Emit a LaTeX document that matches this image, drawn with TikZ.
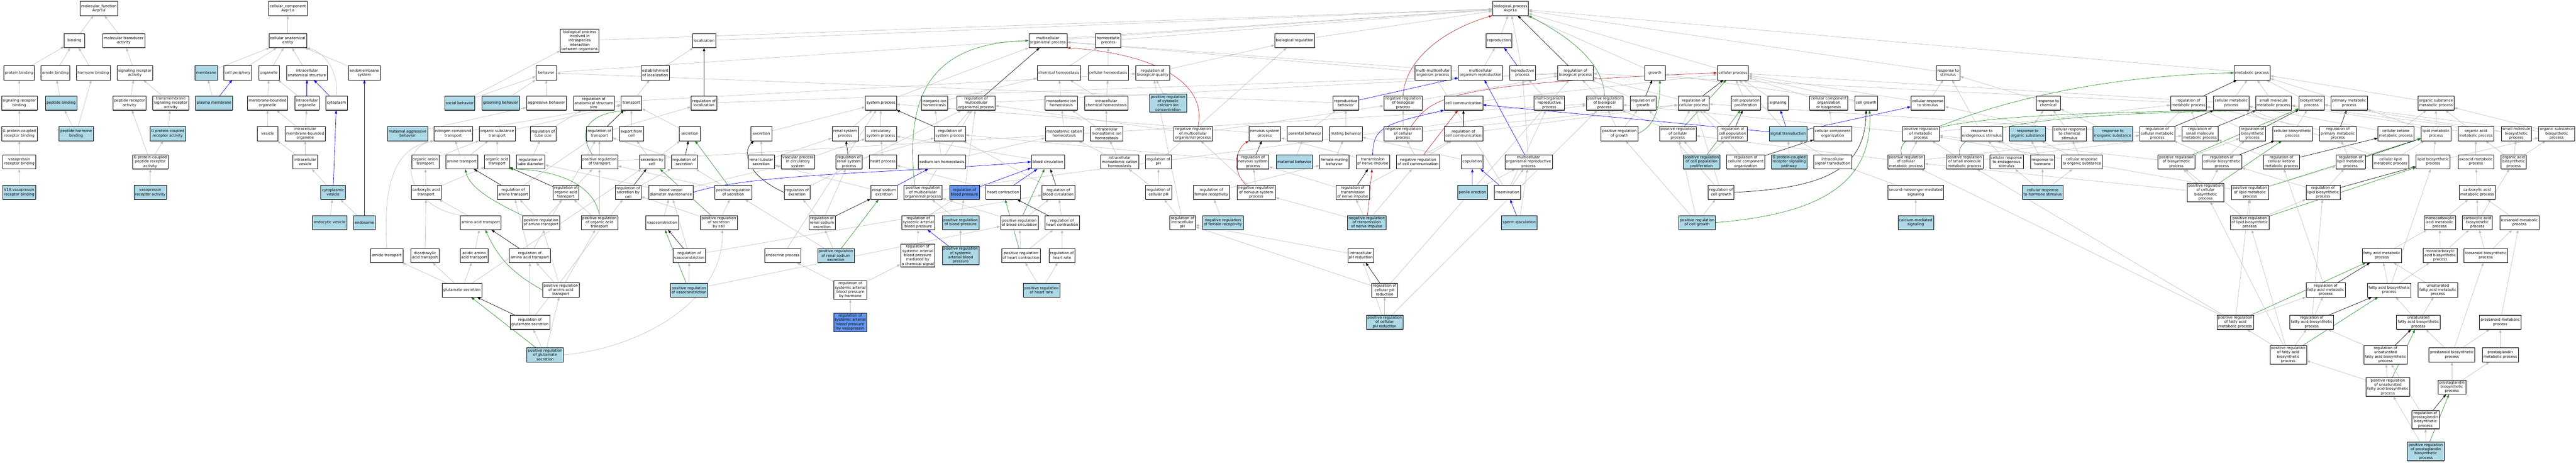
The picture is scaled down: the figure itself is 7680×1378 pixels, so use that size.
\documentclass[tikz,border=0pt]{standalone}
\usepackage{fontspec}
\setmainfont{DejaVu Sans}
\usetikzlibrary{arrows.meta,shadows}
\definecolor{lb}{HTML}{ADD8E6}
\definecolor{cf}{HTML}{6495ED}
\definecolor{eg}{RGB}{190,190,190}
\definecolor{fg}{HTML}{228B22}
\definecolor{fr}{HTML}{B22222}
\pgfdeclarelayer{bgl}
\pgfdeclarelayer{edges}
\pgfsetlayers{bgl,edges,main}
\tikzset{
 nb/.style={draw=black, line width=0.8pt, fill=white, align=center, inner xsep=3.5pt, inner ysep=3pt,
   minimum width=61.5pt, minimum height=42pt, font=\fontsize{11}{12.8}\selectfont,
   drop shadow={shadow xshift=0pt, shadow yshift=-1.5pt, opacity=1, fill=black!55}},
 nl/.style={nb, fill=lb},
 nc/.style={nb, fill=cf},
 ed/.style={draw=eg, line width=1pt, -{Triangle[length=10pt,width=7pt]}},
 edk/.style={ed, draw=black},
 edb/.style={ed, draw=blue},
 edg/.style={ed, draw=fg},
 edr/.style={ed, draw=fr}
}
\newcommand{\lnk}[3][ed]{\draw[#1] (#2) -- (#3);}
\begin{document}
\begin{tikzpicture}[x=1pt,y=-1pt]
\begin{pgfonlayer}{bgl}
\fill[white] (0,0) rectangle (7680,1378);
\end{pgfonlayer}
\useasboundingbox (0,0) rectangle (7680,1378);
% ---------------- molecular function
\node[nb] (mf) at (295,25) {molecular\_function\\Avpr1a};
\node[nb] (binding) at (222,121) {binding};
\node[nb] (moltrans) at (369,121) {molecular transducer\\activity};
\node[nb] (protbind) at (57,217) {protein binding};
\node[nb] (amidebind) at (165,217) {amide binding};
\node[nb] (hormbind) at (278,217) {hormone binding};
\node[nb] (sigrecact) at (402,217) {signaling receptor\\activity};
\node[nb] (sigrecbind) at (57.5,307) {signaling receptor\\binding};
\node[nl] (peptbind) at (182,307) {peptide binding};
\node[nb] (peptrecact) at (386,307) {peptide receptor\\activity};
\node[nb] (tmsra) at (509,307) {transmembrane\\signaling receptor\\activity};
\node[nb] (gpcrbind) at (57.5,398) {G protein-coupled\\receptor binding};
\node[nl] (pepthorm) at (227,398) {peptide hormone\\binding};
\node[nl] (gpcract) at (500,398) {G protein-coupled\\receptor activity};
\node[nb] (vasorecbind) at (57.5,482) {vasopressin\\receptor binding};
\node[nb] (gpcpept) at (448,482) {G protein-coupled\\peptide receptor\\activity};
\node[nl] (v1a) at (57,573) {V1A vasopressin\\receptor binding};
\node[nl] (vasorecact) at (448,573) {vasopressin\\receptor activity};
% ---------------- cellular component
\node[nb] (cc) at (858,25) {cellular\_component\\Avpr1a};
\node[nb] (cae) at (858,121) {cellular anatomical\\entity};
\node[nl] (membrane) at (615,217) {membrane};
\node[nb] (cellper) at (709,217) {cell periphery};
\node[nb] (organelle) at (802,217) {organelle};
\node[nb] (intraanat) at (915,217) {intracellular\\anatomical structure};
\node[nb] (endomem) at (1086.5,217) {endomembrane\\system};
\node[nl] (plasmamem) at (638,307) {plasma membrane};
\node[nb] (mbo) at (797.5,307) {membrane-bounded\\organelle};
\node[nb] (intraorg) at (915,307) {intracellular\\organelle};
\node[nb] (cytoplasm) at (1003,307) {cytoplasm};
\node[nb] (vesicle) at (798,398) {vesicle};
\node[nb] (imbo) at (910,398) {intracellular\\membrane-bounded\\organelle};
\node[nb] (intraves) at (910,482) {intracellular\\vesicle};
\node[nl] (cytoves) at (993,573) {cytoplasmic\\vesicle};
\node[nl] (endocytic) at (982.5,663) {endocytic vesicle};
\node[nl] (endosome) at (1086.5,663) {endosome};
% ---------------- biological process: row 0-2
\node[nb] (bp) at (4503,25) {biological\_process\\Avpr1a};
\node[nb] (bipis) at (1728,121) {biological process\\involved in\\intraspecies\\interaction\\between organisms};
\node[nb] (loc) at (2099,121) {localization};
\node[nb] (mop) at (3124,121) {multicellular\\organismal process};
\node[nb] (homeo) at (3304,121) {homeostatic\\process};
\node[nb] (bioreg) at (3860,121) {biological regulation};
\node[nb] (repro) at (4469,121) {reproduction};
\node[nb] (behavior) at (1628.6,217) {behavior};
\node[nb] (estloc) at (1953.5,217) {establishment\\of localization};
\node[nb] (chemhom) at (3156.7,217) {chemical homeostasis};
\node[nb] (cellhom) at (3303.7,217) {cellular homeostasis};
\node[nb] (rbq) at (3436.7,217) {regulation of\\biological quality};
\node[nb] (mmop) at (4271.8,217) {multi-multicellular\\organism process};
\node[nb] (mor) at (4413.9,217) {multicellular\\organism reproduction};
\node[nb] (reprop) at (4538.8,217) {reproductive\\process};
\node[nb] (rbp) at (4697,217) {regulation of\\biological process};
\node[nb] (growth) at (4934,217) {growth};
\node[nb] (cellproc) at (5166,217) {cellular process};
\node[nb] (rstim) at (5807.8,217) {response to\\stimulus};
\node[nb] (metab) at (6714.3,217) {metabolic process};
% row 3
\node[nl] (socbeh) at (1370.6,307) {social behavior};
\node[nl] (groom) at (1492.7,307) {grooming behavior};
\node[nb] (aggbeh) at (1629,307) {aggressive behavior};
\node[nb] (rass) at (1770,307) {regulation of\\anatomical structure\\size};
\node[nb] (transport) at (1882.4,307) {transport};
\node[nb] (rloc) at (2098.8,307) {regulation of\\localization};
\node[nb] (sysproc) at (2626,307) {system process};
\node[nb] (inorghom) at (2785.7,307) {inorganic ion\\homeostasis};
\node[nb] (rmop) at (2910,307) {regulation of\\multicellular\\organismal process};
\node[nb] (maih) at (3164,307) {monoatomic ion\\homeostasis};
\node[nb] (ich) at (3298,307) {intracellular\\chemical homeostasis};
\node[nl] (prcyto) at (3482.4,307) {positive regulation\\of cytosolic\\calcium ion\\concentration};
\node[nb] (reprobeh) at (4012,307) {reproductive\\behavior};
\node[nb] (nrbp) at (4183,307) {negative regulation\\of biological\\process};
\node[nb] (cellcomm) at (4363,307) {cell communication};
\node[nb] (morp) at (4619,307) {multi-organism\\reproductive\\process};
\node[nb] (prbp) at (4783.7,307) {positive regulation\\of biological\\process};
\node[nb] (rgrowth) at (4898,307) {regulation of\\growth};
\node[nb] (rcp) at (5049,307) {regulation of\\cellular process};
\node[nb] (cpp) at (5205,307) {cell population\\proliferation};
\node[nb] (signaling) at (5301,307) {signaling};
\node[nb] (ccob) at (5452,307) {cellular component\\organization\\or biogenesis};
\node[nb] (cellgrowth) at (5563.7,307) {cell growth};
\node[nb] (crstim) at (5747.3,307) {cellular response\\to stimulus};
\node[nb] (rchem) at (6106.5,307) {response to\\chemical};
\node[nb] (rmetab) at (6524.5,307) {regulation of\\metabolic process};
\node[nb] (cmetab) at (6651.8,307) {cellular metabolic\\process};
\node[nb] (smmetab) at (6778,307) {small molecule\\metabolic process};
\node[nb] (biosyn) at (6891.4,307) {biosynthetic\\process};
\node[nb] (primmetab) at (7003.7,307) {primary metabolic\\process};
\node[nb] (osmetab) at (7262.4,307) {organic substance\\metabolic process};
% row 4
\node[nl] (matagg) at (1215,398) {maternal aggressive\\behavior};
\node[nb] (nitro) at (1351,398) {nitrogen compound\\transport};
\node[nb] (orgsubtr) at (1482.4,398) {organic substance\\transport};
\node[nb] (rtubesize) at (1619,398) {regulation of\\tube size};
\node[nb] (rtransport) at (1787.3,398) {regulation of\\transport};
\node[nb] (export) at (1882.4,398) {export from\\cell};
\node[nb] (secretion) at (2056.3,398) {secretion};
\node[nb] (excretion) at (2269.8,398) {excretion};
\node[nb] (renalsys) at (2519.6,398) {renal system\\process};
\node[nb] (circsys) at (2626,398) {circulatory\\system process};
\node[nb] (rsysproc) at (2832,398) {regulation of\\system process};
\node[nb] (mach) at (3173,398) {monoatomic cation\\homeostasis};
\node[nb] (imih) at (3299,398) {intracellular\\monoatomic ion\\homeostasis};
\node[nb] (nrmop) at (3556.7,398) {negative regulation\\of multicellular\\organismal process};
\node[nb] (nsp) at (3770.6,398) {nervous system\\process};
\node[nb] (parbeh) at (3890,398) {parental behavior};
\node[nb] (matingbeh) at (4012.7,398) {mating behavior};
\node[nb] (nrcp) at (4183,398) {negative regulation\\of cellular\\process};
\node[nb] (rcellcomm) at (4363,398) {regulation of\\cell communication};
\node[nb] (prgrowth) at (4827.8,398) {positive regulation\\of growth};
\node[nb] (prcp) at (5002,398) {positive regulation\\of cellular\\process};
\node[nb] (rcpp) at (5165,398) {regulation of\\cell population\\proliferation};
\node[nl] (sigtrans) at (5331,398) {signal transduction};
\node[nb] (cco) at (5464,398) {cellular component\\organization};
\node[nb] (prmetab) at (5726.5,398) {positive regulation\\of metabolic\\process};
\node[nb] (rendo) at (5908.6,398) {response to\\endogenous stimulus};
\node[nl] (rorgsub) at (6045,398) {response to\\organic substance};
\node[nb] (crchem) at (6170,398) {cellular response\\to chemical\\stimulus};
\node[nl] (rinorg) at (6299,398) {response to\\inorganic substance};
\node[nb] (rcmetab) at (6431.5,398) {regulation of\\cellular metabolic\\process};
\node[nb] (rsmmetab) at (6559,398) {regulation of\\small molecule\\metabolic process};
\node[nb] (rbiosyn) at (6715.5,398) {regulation of\\biosynthetic\\process};
\node[nb] (cbiosyn) at (6834.7,398) {cellular biosynthetic\\process};
\node[nb] (rprimmetab) at (6970,398) {regulation of\\primary metabolic\\process};
\node[nb] (cketone) at (7143,398) {cellular ketone\\metabolic process};
\node[nb] (lipidmetab) at (7262.4,398) {lipid metabolic\\process};
\node[nb] (oamet) at (7381.6,398) {organic acid\\metabolic process};
\node[nb] (smbiosyn) at (7502,398) {small molecule\\biosynthetic\\process};
\node[nb] (osbiosyn) at (7622.4,398) {organic substance\\biosynthetic\\process};
% row 5
\node[nb] (organion) at (1268,482) {organic anion\\transport};
\node[nb] (aminetr) at (1376.7,482) {amine transport};
\node[nb] (orgacidtr) at (1482,482) {organic acid\\transport};
\node[nb] (rtubediam) at (1581.6,482) {regulation of\\tube diameter};
\node[nb] (prtransport) at (1787,482) {positive regulation\\of transport};
\node[nb] (secbycell) at (1944,482) {secretion by\\cell};
\node[nb] (rsecretion) at (2039.6,482) {regulation of\\secretion};
\node[nb] (renaltub) at (2269.4,482) {renal tubular\\secretion};
\node[nb] (vascproc) at (2379,482) {vascular process\\in circulatory\\system};
\node[nb] (rrenalsys) at (2531,482) {regulation of\\renal system\\process};
\node[nb] (heartproc) at (2632,482) {heart process};
\node[nb] (sodhom) at (2808,482) {sodium ion homeostasis};
\node[nb] (bloodcirc) at (3124,482) {blood circulation};
\node[nb] (imch) at (3338,482) {intracellular\\monoatomic cation\\homeostasis};
\node[nb] (rph) at (3453.5,482) {regulation of\\pH};
\node[nb] (rnsp) at (3735.5,482) {regulation of\\nervous system\\process};
\node[nl] (matbeh) at (3859,482) {maternal behavior};
\node[nb] (femmating) at (3978,482) {female mating\\behavior};
\node[nb] (tni) at (4092.7,482) {transmission\\of nerve impulse};
\node[nb] (nrcellcomm) at (4227.8,482) {negative regulation\\of cell communication};
\node[nb] (copulation) at (4389.4,482) {copulation};
\node[nb] (mrp) at (4557,482) {multicellular\\organismal reproductive\\process};
\node[nl] (prcpp) at (5073,482) {positive regulation\\of cell population\\proliferation};
\node[nb] (rcco) at (5204.5,482) {regulation of\\cellular component\\organization};
\node[nl] (gpcrsig) at (5334,482) {G protein-coupled\\receptor signaling\\pathway};
\node[nb] (intrasig) at (5464,482) {intracellular\\signal transduction};
\node[nb] (prcmetab) at (5682.4,482) {positive regulation\\of cellular\\metabolic process};
\node[nb] (prsmmetab) at (5857,482) {positive regulation\\of small molecule\\metabolic process};
\node[nb] (crendo) at (5982,482) {cellular response\\to endogenous\\stimulus};
\node[nb] (rhormone) at (6089,482) {response to\\hormone};
\node[nb] (crorgsub) at (6206.5,482) {cellular response\\to organic substance};
\node[nb] (prbiosyn) at (6488.6,482) {positive regulation\\of biosynthetic\\process};
\node[nb] (rcbiosyn) at (6624,482) {regulation of\\cellular biosynthetic\\process};
\node[nb] (rcketone) at (6801.6,482) {regulation of\\cellular ketone\\metabolic process};
\node[nb] (rlipidmetab) at (7007.8,482) {regulation of\\lipid metabolic\\process};
\node[nb] (clipid) at (7127,482) {cellular lipid\\metabolic process};
\node[nb] (lipidbiosyn) at (7253.9,482) {lipid biosynthetic\\process};
\node[nb] (oxoacid) at (7381.6,482) {oxoacid metabolic\\process};
\node[nb] (oabiosyn) at (7494,482) {organic acid\\biosynthetic\\process};
% row 6
\node[nb] (carbtr) at (1270,573) {carboxylic acid\\transport};
\node[nb] (ramine) at (1530,573) {regulation of\\amine transport};
\node[nb] (rorgacid) at (1687,573) {regulation of\\organic acid\\transport};
\node[nb] (rsecbycell) at (1873,573) {regulation of\\secretion by\\cell};
\node[nb] (bvdm) at (2000,573) {blood vessel\\diameter maintenance};
\node[nb] (prsecretion) at (2186,573) {positive regulation\\of secretion};
\node[nb] (rexcretion) at (2376,573) {regulation of\\excretion};
\node[nb] (renalsod) at (2635.5,573) {renal sodium\\excretion};
\node[nb] (prmop) at (2751.8,573) {positive regulation\\of multicellular\\organismal process};
\node[nc] (rbpress) at (2875.5,573) {regulation of\\blood pressure};
\node[nb] (heartcontr) at (2990.6,573) {heart contraction};
\node[nb] (rbloodcirc) at (3155,573) {regulation of\\blood circulation};
\node[nb] (rcellph) at (3454,573) {regulation of\\cellular pH};
\node[nb] (rfemrec) at (3611.4,573) {regulation of\\female receptivity};
\node[nb] (nrnsp) at (3745,573) {negative regulation\\of nervous system\\process};
\node[nb] (rtni) at (4033,573) {regulation of\\transmission\\of nerve impulse};
\node[nl] (penile) at (4389.8,573) {penile erection};
\node[nb] (insem) at (4494,573) {insemination};
\node[nb] (rcellgrowth) at (5131,573) {regulation of\\cell growth};
\node[nb] (secmess) at (5711.4,573) {second-messenger-mediated\\signaling};
\node[nl] (crhormone) at (6090,573) {cellular response\\to hormone stimulus};
\node[nb] (prcbiosyn) at (6575.5,573) {positive regulation\\of cellular\\biosynthetic\\process};
\node[nb] (prlipidmetab) at (6707.8,573) {positive regulation\\of lipid metabolic\\process};
\node[nb] (rlipidbiosyn) at (6925.7,573) {regulation of\\lipid biosynthetic\\process};
\node[nb] (camet) at (7385.3,573) {carboxylic acid\\metabolic process};
% row 7
\node[nb] (aatr) at (1433,663) {amino acid transport};
\node[nb] (pramine) at (1613,663) {positive regulation\\of amine transport};
\node[nb] (prorgacid) at (1787,663) {positive regulation\\of organic acid\\transport};
\node[nb] (vasocon) at (1974,663) {vasoconstriction};
\node[nb] (prsecbycell) at (2143,663) {positive regulation\\of secretion\\by cell};
\node[nb] (rrenalsod) at (2450.6,663) {regulation of\\renal sodium\\excretion};
\node[nb] (rsabp) at (2737.6,663) {regulation of\\systemic arterial\\blood pressure};
\node[nl] (prbpress) at (2863.7,663) {positive regulation\\of blood pressure};
\node[nb] (prbloodcirc) at (3039,663) {positive regulation\\of blood circulation};
\node[nb] (rheartcontr) at (3166.5,663) {regulation of\\heart contraction};
\node[nb] (rintraph) at (3525.3,663) {regulation of\\intracellular\\pH};
\node[nl] (nrfemrec) at (3645.7,663) {negative regulation\\of female receptivity};
\node[nl] (nrtni) at (4074.7,663) {negative regulation\\of transmission\\of nerve impulse};
\node[nl] (sperm) at (4529.4,663) {sperm ejaculation};
\node[nl] (prcellgrowth) at (5059.6,663) {positive regulation\\of cell growth};
\node[nl] (casig) at (5711.4,663) {calcium-mediated\\signaling};
\node[nb] (prlipidbiosyn) at (6707,663) {positive regulation\\of lipid biosynthetic\\process};
\node[nb] (monocarbmet) at (7273.5,663) {monocarboxylic\\acid metabolic\\process};
\node[nb] (cabiosyn) at (7386,663) {carboxylic acid\\biosynthetic\\process};
\node[nb] (icosmet) at (7511.4,663) {icosanoid metabolic\\process};
% row 8
\node[nb] (amidetr) at (1153,761) {amide transport};
\node[nb] (dicarb) at (1267,761) {dicarboxylic\\acid transport};
\node[nb] (acidicaa) at (1413.5,761) {acidic amino\\acid transport};
\node[nb] (raatr) at (1579.6,761) {regulation of\\amino acid transport};
\node[nb] (rvasocon) at (2055,761) {regulation of\\vasoconstriction};
\node[nb] (endocrine) at (2333,761) {endocrine process};
\node[nl] (prrenalsod) at (2492,761) {positive regulation\\of renal sodium\\excretion};
\node[nb] (rsabpchem) at (2736,761) {regulation of\\systemic arterial\\blood pressure\\mediated by\\a chemical signal};
\node[nl] (prsabp) at (2864,761) {positive regulation\\of systemic\\arterial blood\\pressure};
\node[nb] (prheartcontr) at (3044,761) {positive regulation\\of heart contraction};
\node[nb] (rheartrate) at (3166,761) {regulation of\\heart rate};
\node[nb] (intraphred) at (4057,761) {intracellular\\pH reduction};
\node[nb] (famet) at (7101,761) {fatty acid metabolic\\process};
\node[nb] (monocarbbio) at (7275,761) {monocarboxylic\\acid biosynthetic\\process};
\node[nb] (icosbio) at (7411,761) {icosanoid biosynthetic\\process};
% row 9
\node[nb] (glutsec) at (1377,864) {glutamate secretion};
\node[nb] (praatr) at (1672,864) {positive regulation\\of amino acid\\transport};
\node[nl] (prvasocon) at (2054,864) {positive regulation\\of vasoconstriction};
\node[nb] (rsabphorm) at (2535,864) {regulation of\\systemic arterial\\blood pressure\\by hormone};
\node[nl] (prheartrate) at (3105,864) {positive regulation\\of heart rate};
\node[nb] (rcphred) at (4128,864) {regulation of\\cellular pH\\reduction};
\node[nb] (rfamet) at (6933.5,864) {regulation of\\fatty acid metabolic\\process};
\node[nb] (fabiosyn) at (7123,864) {fatty acid biosynthetic\\process};
\node[nb] (ufamet) at (7268,864) {unsaturated\\fatty acid metabolic\\process};
% row 10
\node[nb] (rglutsec) at (1580,960) {regulation of\\glutamate secretion};
\node[nc] (rsabpvaso) at (2535,960) {regulation of\\systemic arterial\\blood pressure\\by vasopressin};
\node[nl] (prcphred) at (4128,960) {positive regulation\\of cellular\\pH reduction};
\node[nb] (prfamet) at (6664,960) {positive regulation\\of fatty acid\\metabolic process};
\node[nb] (rfabiosyn) at (6892,960) {regulation of\\fatty acid biosynthetic\\process};
\node[nb] (ufabiosyn) at (7210,960) {unsaturated\\fatty acid biosynthetic\\process};
\node[nb] (prostmet) at (7454,960) {prostanoid metabolic\\process};
% row 11
\node[nl] (prglutsec) at (1625,1057) {positive regulation\\of glutamate\\secretion};
\node[nb] (prfabiosyn) at (6822,1057) {positive regulation\\of fatty acid\\biosynthetic\\process};
\node[nb] (rufabiosyn) at (7112,1057) {regulation of\\unsaturated\\fatty acid biosynthetic\\process};
\node[nb] (prostbio) at (7310,1057) {prostanoid biosynthetic\\process};
\node[nb] (pgmet) at (7454,1057) {prostaglandin\\metabolic process};
% rows 12-14
\node[nb] (prufabiosyn) at (7119,1153) {positive regulation\\of unsaturated\\fatty acid biosynthetic\\process};
\node[nb] (pgbio) at (7310,1153) {prostaglandin\\biosynthetic\\process};
\node[nb] (rpgbio) at (7231,1250) {regulation of\\prostaglandin\\biosynthetic\\process};
\node[nl] (prpgbio) at (7232,1345) {positive regulation\\of prostaglandin\\biosynthetic\\process};

\begin{pgfonlayer}{edges}
% MF
\lnk{binding}{mf}\lnk{moltrans}{mf}\lnk{protbind}{binding}\lnk{amidebind}{binding}\lnk{hormbind}{binding}
\lnk{sigrecact}{moltrans}\lnk{sigrecbind}{protbind}\lnk{peptbind}{amidebind}\lnk{pepthorm}{peptbind}
\lnk{pepthorm}{hormbind}\lnk{peptrecact}{sigrecact}\lnk{tmsra}{sigrecact}\lnk{gpcrbind}{sigrecbind}
\lnk{vasorecbind}{gpcrbind}\lnk{v1a}{vasorecbind}\lnk{gpcpept}{peptrecact}\lnk{gpcpept}{gpcract}
\lnk{gpcract}{tmsra}\lnk{vasorecact}{gpcpept}
% CC
\lnk{cae}{cc}\lnk{membrane}{cae}\lnk{cellper}{cae}\lnk{organelle}{cae}\lnk{intraanat}{cae}\lnk{endomem}{cae}
\draw[ed] (cytoplasm.north) .. controls (1010,230) and (980,160) .. (cae.south east);
\lnk{plasmamem}{membrane}\lnk[edb]{plasmamem}{cellper}\lnk{mbo}{organelle}\lnk{intraorg}{organelle}
\lnk[edb]{intraorg}{intraanat}\lnk[edb]{cytoplasm}{intraanat}\lnk{vesicle}{mbo}\lnk{imbo}{mbo}\lnk{imbo}{intraorg}
\lnk{intraves}{vesicle}\lnk{intraves}{imbo}\lnk{cytoves}{intraves}\lnk[edb]{cytoves}{cytoplasm}
\lnk{endocytic}{cytoves}\lnk{endosome}{cytoves}\lnk[edb]{endosome}{endomem}
% BP top
\lnk{bipis}{bp}\lnk{loc}{bp}\lnk{mop}{bp}\lnk{homeo}{bp}\lnk{bioreg}{bp}\lnk{repro}{bp}\lnk{behavior}{bp}
\lnk{growth}{bp}\lnk{cellproc}{bp}\lnk{rstim}{bp}\lnk{metab}{bp}\lnk{reprop}{bp}
\lnk[edk]{rbp}{bp}
\draw[edg] (prbp.north) .. controls (4780,170) and (4640,90) .. (bp.south east);
\draw[edr] (nrbp.north) .. controls (4188,180) and (4300,90) .. (bp.south west);
% localization, behavior
\lnk{estloc}{loc}\lnk[edk]{rloc}{loc}\lnk{transport}{estloc}\lnk{rloc}{rbp}
\lnk{socbeh}{bipis}\lnk{socbeh}{behavior}\lnk{groom}{behavior}\lnk{aggbeh}{behavior}\lnk{matagg}{aggbeh}
\lnk{reprobeh}{behavior}
% transport
\lnk{nitro}{transport}\lnk{orgsubtr}{transport}\lnk{export}{transport}\lnk{secretion}{transport}
\lnk[edk]{rtransport}{transport}\lnk{rtransport}{rloc}
\draw[edg] ([xshift=-21pt]prtransport.north) .. controls (1725,400) and (1740,340) .. ([xshift=-12pt]transport.south);
\lnk{prtransport}{rtransport}
\lnk{prtransport}{prbp}\lnk{rass}{rbq}\lnk{rtubesize}{rass}\lnk{rtubediam}{rtubesize}
\lnk{organion}{orgsubtr}\lnk{aminetr}{nitro}\lnk{aminetr}{orgsubtr}\lnk{orgacidtr}{orgsubtr}
\lnk{carbtr}{orgacidtr}\lnk{carbtr}{organion}
\draw[ed] (amidetr.north) .. controls (1140,520) and (1190,440) .. (nitro.south west);
\lnk{aatr}{carbtr}
\draw[ed] (aatr.north west) .. controls (1200,610) and (1190,440) .. (nitro.south west);
\lnk{dicarb}{carbtr}\lnk{acidicaa}{aatr}\lnk{glutsec}{amidetr}\lnk{glutsec}{dicarb}\lnk{glutsec}{acidicaa}
\lnk{glutsec}{secbycell}\lnk{secbycell}{secretion}\lnk{secbycell}{export}
\lnk[edk]{rsecretion}{secretion}\lnk{rsecretion}{rtransport}
\lnk[edk]{ramine}{aminetr}\lnk{ramine}{rtransport}\lnk[edk]{rorgacid}{orgacidtr}\lnk{rorgacid}{rtransport}
\lnk[edk]{rsecbycell}{secbycell}\lnk{rsecbycell}{rsecretion}
\lnk[edg]{prsecretion}{secretion}\lnk{prsecretion}{rsecretion}\lnk{prsecretion}{prtransport}
\lnk[edg]{prsecbycell}{secbycell}\lnk{prsecbycell}{rsecbycell}\lnk{prsecbycell}{prsecretion}
\draw[edg] (pramine.north west) .. controls (1470,600) and (1400,560) .. ([xshift=10pt]aminetr.south);
\lnk{pramine}{ramine}\lnk{pramine}{prtransport}
\draw[edg] (prorgacid.north) .. controls (1770,540) and (1640,505) .. (orgacidtr.south east);
\lnk{prorgacid}{rorgacid}\lnk{prorgacid}{prtransport}
\lnk[edk]{raatr}{aatr}\lnk{raatr}{ramine}\lnk{raatr}{rorgacid}
\draw[edg] (praatr.west) .. controls (1540,820) and (1490,780) .. ([xshift=14pt]aatr.south);
\lnk{praatr}{raatr}\lnk{praatr}{pramine}\lnk{praatr}{prorgacid}
\lnk[edk]{rglutsec}{glutsec}\lnk{rglutsec}{raatr}\lnk{rglutsec}{rsecbycell}
\lnk[edg]{prglutsec}{glutsec}\lnk{prglutsec}{rglutsec}\lnk{prglutsec}{praatr}
\draw[ed] (prglutsec.east) .. controls (1900,1040) and (2160,900) .. ([xshift=10pt]prsecbycell.south);
% vascular, renal
\lnk{bvdm}{rtubediam}
\draw[edb] (bvdm.east) .. controls (2250,515) and (2700,515) .. (bloodcirc.west);
\lnk{bvdm}{vascproc}\lnk{vasocon}{bvdm}
\lnk[edk]{rvasocon}{vasocon}\lnk{rvasocon}{bvdm}\lnk{rvasocon}{rbloodcirc}
\lnk[edg]{prvasocon}{vasocon}\lnk{prvasocon}{rvasocon}\lnk{prvasocon}{prbloodcirc}
\lnk{excretion}{sysproc}\lnk{renaltub}{excretion}\lnk{renaltub}{renalsys}\lnk{renalsys}{sysproc}
\lnk{vascproc}{circsys}\lnk[edk]{rrenalsys}{renalsys}\lnk{rrenalsys}{rsysproc}
\draw[edk] (rexcretion.west) .. controls (2220,520) and (2215,450) .. ([xshift=-22pt]excretion.south);
\lnk{rexcretion}{rmop}
\lnk{rrenalsod}{rexcretion}\lnk[edk]{rrenalsod}{renalsod}\lnk{rrenalsod}{rrenalsys}
\lnk{renalsod}{renaltub}\lnk[edb]{renalsod}{sodhom}
\lnk[edg]{prrenalsod}{renalsod}\lnk{prrenalsod}{rrenalsod}\lnk{prrenalsod}{prsecretion}
\lnk{endocrine}{sysproc}\lnk{rsabphorm}{endocrine}\lnk{rsabphorm}{rsabpchem}\lnk{rsabpvaso}{rsabphorm}
\lnk{rsabpchem}{rsabp}\lnk{prsabp}{prbpress}\lnk[edb]{prsabp}{rsabp}\lnk{rsabp}{rbpress}
\lnk{prbpress}{rbpress}\lnk{prbpress}{prmop}\lnk{rbpress}{rmop}\lnk[edb]{rbpress}{bloodcirc}
\draw[edg] ([xshift=-25pt]prmop.north) .. controls (2700,300) and (2760,130) .. (mop.west);
\lnk{prmop}{rmop}\lnk{prmop}{prbp}
\lnk{heartcontr}{heartproc}\lnk[edb]{heartcontr}{bloodcirc}
\lnk[edk]{rbloodcirc}{bloodcirc}\lnk{rbloodcirc}{rsysproc}
\lnk[edg]{prbloodcirc}{bloodcirc}\lnk{prbloodcirc}{rbloodcirc}\lnk{prbloodcirc}{prmop}
\lnk[edk]{rheartcontr}{heartcontr}\lnk{rheartcontr}{rbloodcirc}
\lnk[edg]{prheartcontr}{heartcontr}\lnk{prheartcontr}{prbloodcirc}\lnk{prheartcontr}{rheartcontr}
\lnk{rheartrate}{rheartcontr}\lnk{prheartrate}{prheartcontr}\lnk{prheartrate}{rheartrate}
\lnk{sysproc}{mop}\lnk{circsys}{sysproc}\lnk{heartproc}{circsys}\lnk{bloodcirc}{circsys}\lnk{nsp}{sysproc}
\lnk[edk]{rsysproc}{sysproc}\lnk{rsysproc}{rmop}\lnk[edk]{rmop}{mop}\lnk{rmop}{rbp}
\draw[edr] ([xshift=15pt]nrmop.north) .. controls (3600,250) and (3450,160) .. (mop.south east);
\lnk{nrmop}{rmop}\lnk{nrmop}{nrbp}
\lnk[edk]{rnsp}{nsp}\lnk{rnsp}{rsysproc}
\draw[edr] ([xshift=-30pt]nrnsp.north) .. controls (3665,500) and (3690,440) .. (nsp.south west);
\lnk{nrnsp}{rnsp}\lnk{nrnsp}{nrmop}
\lnk{rfemrec}{femmating}\lnk{nrfemrec}{rfemrec}
% homeostasis
\lnk{chemhom}{homeo}\lnk{cellhom}{homeo}\lnk{rbq}{bioreg}\lnk{inorghom}{chemhom}\lnk{maih}{chemhom}
\lnk{ich}{chemhom}\lnk{ich}{cellhom}\lnk{prcyto}{rbq}\lnk{mach}{maih}\lnk{imih}{maih}\lnk{imih}{ich}
\lnk{imch}{mach}\lnk{imch}{imih}\lnk{sodhom}{inorghom}\lnk{sodhom}{mach}\lnk{rph}{bioreg}
\lnk{rintraph}{rbq}\lnk{intraphred}{rintraph}\lnk{rcellph}{rph}\lnk{rcellph}{imch}\lnk{rintraph}{rcellph}
\lnk[edk]{rcphred}{intraphred}\lnk{rcphred}{rbp}\lnk{rcphred}{rintraph}
\lnk{prcphred}{rcphred}\lnk{prcphred}{intraphred}\lnk{prcphred}{prbp}
% reproduction
\lnk[edb]{reprop}{repro}\lnk{mor}{repro}\lnk{mor}{mop}\lnk{mmop}{mop}\lnk[edb]{reprobeh}{mor}
\lnk{matingbeh}{reprobeh}\lnk{parbeh}{reprobeh}\lnk{femmating}{matingbeh}\lnk{matbeh}{parbeh}
\lnk{copulation}{matingbeh}\lnk[edb]{penile}{copulation}\lnk[edb]{insem}{copulation}\lnk{penile}{mrp}
\lnk{insem}{mrp}\lnk{insem}{mmop}\lnk{insem}{morp}\lnk[edb]{sperm}{insem}\lnk{sperm}{mrp}
\lnk[edb]{mrp}{mor}\lnk{mrp}{reprop}\lnk{morp}{reprop}
% communication, growth, cellular
\lnk[edk]{rcellcomm}{cellcomm}\lnk{rcellcomm}{rcp}\lnk{cellcomm}{cellproc}
\lnk[edr]{nrcellcomm}{cellcomm}\lnk{nrcellcomm}{rcellcomm}\lnk{nrcellcomm}{nrcp}
\draw[edb] (tni.north) .. controls (4092,380) and (4130,368) .. (cellcomm.south west);
\lnk{tni}{nsp}\lnk[edk]{rtni}{tni}\lnk{rtni}{rcellcomm}\lnk{rtni}{rnsp}
\lnk[edr]{nrtni}{tni}\lnk{nrtni}{rtni}\lnk{nrtni}{nrcellcomm}\lnk{nrtni}{nrnsp}
\lnk{nrcp}{nrbp}
\draw[edr] ([xshift=24pt]nrcp.north) .. controls (4270,290) and (4300,250) .. (cellproc.west);
\lnk{nrcp}{rcp}\lnk{nrbp}{rbp}
\lnk[edk]{rgrowth}{growth}\lnk{rgrowth}{rbp}
\draw[edg] (prgrowth.east) .. controls (4945,370) and (4948,300) .. ([xshift=15pt]growth.south);
\lnk{prgrowth}{rgrowth}\lnk{prgrowth}{prbp}
\lnk{rcp}{rbp}\lnk[edk]{rcp}{cellproc}\lnk{prcp}{rcp}\lnk{prcp}{prbp}\lnk[edg]{prcp}{cellproc}\lnk{prbp}{rbp}
\lnk{cpp}{cellproc}\lnk{signaling}{cellproc}\lnk{ccob}{cellproc}\lnk{cellgrowth}{cellproc}\lnk{cellgrowth}{growth}
\lnk{crstim}{rstim}\lnk{crstim}{cellproc}\lnk{rchem}{rstim}
\lnk[edk]{rcpp}{cpp}\lnk{rcpp}{rcp}\lnk[edg]{prcpp}{cpp}\lnk{prcpp}{rcpp}\lnk{prcpp}{prcp}
\lnk[edb]{sigtrans}{signaling}\lnk[edb]{sigtrans}{crstim}\lnk[edb]{sigtrans}{cellcomm}\lnk{sigtrans}{cellproc}
\lnk{cco}{ccob}\lnk[edk]{rcco}{cco}\lnk{rcco}{rcp}\lnk{gpcrsig}{sigtrans}\lnk{intrasig}{sigtrans}
\lnk{secmess}{intrasig}\lnk{casig}{secmess}
\draw[edk] (rcellgrowth.east) .. controls (5450,560) and (5560,500) .. (cellgrowth.south);
\lnk{rcellgrowth}{rgrowth}\lnk{rcellgrowth}{rcp}
\draw[edg] (prcellgrowth.east) .. controls (5400,640) and (5585,560) .. ([xshift=10pt]cellgrowth.south);
\lnk{prcellgrowth}{rcellgrowth}\lnk{prcellgrowth}{prgrowth}\lnk{prcellgrowth}{prcp}
% response
\lnk{rendo}{rstim}\lnk{rorgsub}{rchem}\lnk{crchem}{rchem}\lnk{crchem}{crstim}\lnk{rinorg}{rchem}
\lnk{crendo}{rendo}\lnk{rhormone}{rendo}\lnk{rhormone}{rorgsub}\lnk{crorgsub}{rorgsub}\lnk{crorgsub}{crchem}
\lnk{crhormone}{rhormone}\lnk{crhormone}{crendo}\lnk{crhormone}{crorgsub}
% metabolism
\draw[edg] (prmetab.north east) .. controls (6000,290) and (6300,225) .. (metab.west);
\lnk{prmetab}{rmetab}\lnk{prmetab}{prbp}
\draw[edg] ([xshift=-13pt]prcmetab.north) .. controls (5630,340) and (6200,338) .. ([xshift=-10pt]cmetab.south);
\lnk{prcmetab}{prmetab}\lnk{prcmetab}{rcmetab}\lnk{prcmetab}{prcp}
\draw[edg] ([xshift=-15pt]prsmmetab.north) .. controls (5820,345) and (6400,335) .. ([xshift=-30pt]smmetab.south);
\lnk{prsmmetab}{prmetab}\lnk{prsmmetab}{rsmmetab}
\lnk[edk]{rmetab}{metab}\lnk{rmetab}{rbp}\lnk{cmetab}{metab}\lnk{cmetab}{cellproc}\lnk{smmetab}{metab}
\lnk{biosyn}{metab}\lnk{primmetab}{metab}\lnk{osmetab}{metab}
\lnk{rcmetab}{rmetab}\lnk[edk]{rcmetab}{cmetab}\lnk{rcmetab}{rcp}
\lnk{rsmmetab}{rmetab}\lnk[edk]{rsmmetab}{smmetab}\lnk[edk]{rbiosyn}{biosyn}\lnk{rbiosyn}{rmetab}
\lnk{cbiosyn}{biosyn}\lnk{cbiosyn}{cmetab}\lnk[edk]{rprimmetab}{primmetab}\lnk{rprimmetab}{rmetab}
\lnk{cketone}{cmetab}\lnk{cketone}{osmetab}\lnk{lipidmetab}{osmetab}\lnk{lipidmetab}{primmetab}
\lnk{oamet}{osmetab}\lnk{oamet}{smmetab}\lnk{smbiosyn}{smmetab}\lnk{smbiosyn}{biosyn}
\lnk{osbiosyn}{osmetab}\lnk{osbiosyn}{biosyn}
\lnk{prbiosyn}{rbiosyn}\lnk[edg]{prbiosyn}{biosyn}\lnk{prbiosyn}{prmetab}
\lnk[edk]{rcbiosyn}{cbiosyn}\lnk{rcbiosyn}{rbiosyn}\lnk{rcbiosyn}{rcmetab}
\lnk[edk]{rcketone}{cketone}\lnk{rcketone}{rsmmetab}
\lnk[edk]{rlipidmetab}{lipidmetab}\lnk{rlipidmetab}{rprimmetab}
\lnk{clipid}{lipidmetab}\lnk{clipid}{cmetab}\lnk{lipidbiosyn}{lipidmetab}\lnk{lipidbiosyn}{osbiosyn}
\lnk{oxoacid}{oamet}\lnk{oabiosyn}{oamet}\lnk{oabiosyn}{smbiosyn}\lnk{oabiosyn}{osbiosyn}
\lnk{prcbiosyn}{prbiosyn}\lnk{prcbiosyn}{rcbiosyn}\lnk[edg]{prcbiosyn}{cbiosyn}\lnk{prcbiosyn}{prcmetab}
\lnk[edg]{prlipidmetab}{lipidmetab}\lnk{prlipidmetab}{rlipidmetab}\lnk{prlipidmetab}{prmetab}
\lnk[edk]{rlipidbiosyn}{lipidbiosyn}\lnk{rlipidbiosyn}{rlipidmetab}\lnk{rlipidbiosyn}{rcbiosyn}
\lnk{camet}{oxoacid}
\lnk{prlipidbiosyn}{prlipidmetab}\lnk[edg]{prlipidbiosyn}{lipidbiosyn}\lnk{prlipidbiosyn}{rlipidbiosyn}\lnk{prlipidbiosyn}{prbiosyn}
\lnk{monocarbmet}{camet}\lnk{cabiosyn}{camet}\lnk{cabiosyn}{oabiosyn}\lnk{icosmet}{camet}
\lnk{famet}{monocarbmet}\lnk{monocarbbio}{monocarbmet}\lnk{monocarbbio}{cabiosyn}
\lnk{icosbio}{icosmet}\lnk{icosbio}{cabiosyn}
\lnk[edk]{rfamet}{famet}\lnk{rfamet}{rcketone}
\lnk{fabiosyn}{famet}\lnk{fabiosyn}{monocarbbio}\lnk{fabiosyn}{lipidbiosyn}\lnk{ufamet}{famet}
\lnk{prfamet}{rfamet}\lnk[edg]{prfamet}{famet}\lnk{prfamet}{prlipidmetab}\lnk{prfamet}{prsmmetab}\lnk{prfamet}{prcmetab}
\lnk[edk]{rfabiosyn}{fabiosyn}\lnk{rfabiosyn}{rfamet}\lnk{rfabiosyn}{rlipidbiosyn}
\lnk{ufabiosyn}{fabiosyn}\lnk{ufabiosyn}{ufamet}\lnk{prostmet}{icosmet}
\lnk{prfabiosyn}{prfamet}\lnk{prfabiosyn}{rfabiosyn}\lnk[edg]{prfabiosyn}{fabiosyn}\lnk{prfabiosyn}{prlipidbiosyn}\lnk{prfabiosyn}{prcbiosyn}
\lnk[edk]{rufabiosyn}{ufabiosyn}\lnk{rufabiosyn}{rfabiosyn}
\lnk{prostbio}{ufabiosyn}\lnk{prostbio}{prostmet}\lnk{prostbio}{icosbio}\lnk{pgmet}{prostmet}
\lnk{prufabiosyn}{rufabiosyn}\lnk[edg]{prufabiosyn}{ufabiosyn}\lnk{prufabiosyn}{prfabiosyn}
\lnk{pgbio}{prostbio}\lnk{pgbio}{pgmet}
\lnk[edk]{rpgbio}{pgbio}\lnk{rpgbio}{rufabiosyn}
\lnk{prpgbio}{rpgbio}\lnk[edg]{prpgbio}{pgbio}\lnk{prpgbio}{prufabiosyn}
\end{pgfonlayer}
\end{tikzpicture}
\end{document}
